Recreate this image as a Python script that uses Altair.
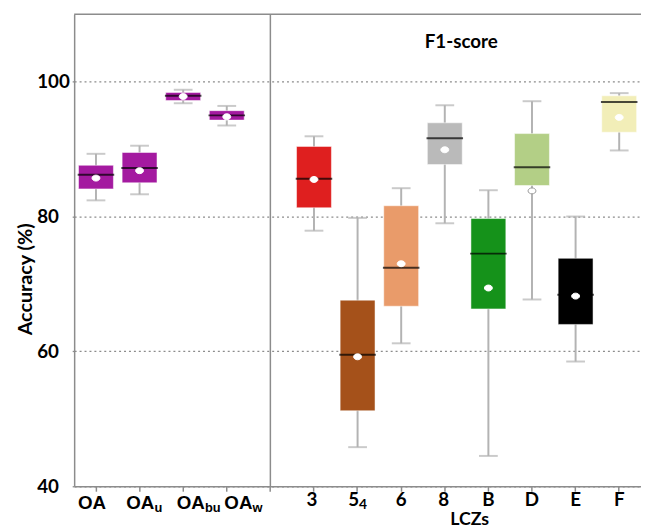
import altair as alt
import pandas as pd

# ---------------- data ----------------
categories = ["OA", "OAu", "OAbu", "OAw", "3", "54", "6", "8", "B", "D", "E", "F"]
label_main = ["OA", "OA", "OA", "OA", "3", "5", "6", "8", "B", "D", "E", "F"]
label_sub = ["", "u", "bu", "w", "", "4", "", "", "", "", "", ""]

whisker_low = [82.4, 83.3, 96.8, 93.5, 77.9, 45.8, 61.2, 79.0, 44.5, 67.7, 58.5, 89.8]
q1 = [84.1, 85.0, 97.2, 94.3, 81.3, 51.2, 66.7, 87.7, 66.3, 84.6, 64.0, 92.5]
median = [86.2, 87.2, 97.9, 95.0, 85.6, 59.5, 72.4, 91.6, 74.5, 87.3, 68.4, 97.0]
q3 = [87.6, 89.5, 98.4, 95.7, 90.4, 67.6, 81.6, 93.9, 79.7, 92.3, 73.8, 97.9]
whisker_high = [89.3, 90.5, 98.8, 96.4, 91.9, 79.8, 84.2, 96.5, 83.9, 97.1, 80.0, 98.3]
mean = [85.7, 86.8, 97.8, 94.8, 85.5, 59.2, 73.0, 89.9, 69.4, 83.8, 68.2, 94.7]
box_colors = ["#a41aa0", "#a41aa0", "#a41aa0", "#a41aa0", "#df1f1f", "#a5511a",
              "#e99b6a", "#bababa", "#15921a", "#b3cf86", "#000000", "#f2eeb8"]

y_ticks = [40, 60, 80, 100]
y_domain = [40, 110]
panel_title = "F1-score"
x_title = "LCZs"
y_title = "Accuracy (%)"

# ---------------- layout / style ----------------
W, H = 574, 478
GRAY = "#8c8c8c"
WHISK = "#b3b3b3"
# per-label horizontal offsets (style only)
LABEL_DX = [-4, 15, 22, 26, -2, 1.5, 0, -1, 0, 0, 0, 0]

df = pd.DataFrame({
    "cat": categories, "low": whisker_low, "q1": q1, "med": median,
    "q3": q3, "high": whisker_high, "mean": mean, "color": box_colors,
})

domain = categories[:4] + ["gap"] + categories[4:]

xscale = alt.Scale(domain=domain, paddingInner=0.2, paddingOuter=0.1)
xaxis = alt.Axis(labels=False, ticks=True, tickSize=5, tickColor=GRAY, tickWidth=1.5,
                 domainColor=GRAY, domainWidth=1.5, grid=False,
                 title=x_title, titleFont="Lato", titleFontSize=18, titleFontWeight="bold",
                 titleColor="black", titleX=400, titleY=34, titleAlign="center",
                 titleBaseline="middle")
X = alt.X("cat:N", scale=xscale, axis=xaxis)

yscale = alt.Scale(domain=y_domain, nice=False, zero=False)
yaxis = alt.Axis(values=y_ticks, labelAlign="left", labelPadding=33, tickSize=5,
                 tickDash=[2, 3], tickColor=GRAY, tickWidth=1.3,
                 labelFont="Lato", labelFontSize=19, labelFontWeight="bold", labelColor="black",
                 grid=True, gridDash=[2, 3], gridColor=GRAY, gridWidth=1.3,
                 domainColor=GRAY, domainWidth=1.5,
                 title=y_title, titleFont="Lato", titleFontSize=20, titleFontWeight="bold",
                 titleColor="black", titleAngle=270, titleX=-49, titleY=268,
                 titleAlign="center", titleBaseline="middle")


def Y(field):
    return alt.Y(f"{field}:Q", scale=yscale, axis=yaxis)


base = alt.Chart(df)

whiskers = base.mark_rule(color=WHISK, strokeWidth=2).encode(x=X, y=Y("low"), y2="high")
cap_low = base.mark_tick(color=WHISK, thickness=2, size=19).encode(x=X, y=Y("low"))
cap_high = base.mark_tick(color=WHISK, thickness=2, size=19).encode(x=X, y=Y("high"))
boxes = base.mark_bar(stroke="white", strokeWidth=1, strokeOpacity=0.5).encode(
    x=X, y=Y("q1"), y2="q3", color=alt.Color("color:N", scale=None))
medians = base.mark_tick(color="black", thickness=2, size=37).encode(x=X, y=Y("med"))
ellipse = "M -1 0 A 1 0.75 0 1 1 1 0 A 1 0.75 0 1 1 -1 0 Z"
means = base.transform_calculate(
    outside="datum.mean < datum.q1 || datum.mean > datum.q3"
).mark_point(shape=ellipse, filled=True, fill="white", size=64, opacity=1, strokeWidth=1).encode(
    x=X, y=Y("mean"),
    stroke=alt.condition("datum.outside", alt.value("#999999"), alt.value("white")))

sep = alt.Chart(pd.DataFrame({"cat": ["gap"]})).mark_rule(color=GRAY, strokeWidth=1.5).encode(
    x=X, y=alt.value(0), y2=alt.value(H))
top_border = alt.Chart(pd.DataFrame({"a": [0]})).mark_rule(color=GRAY, strokeWidth=1.5).encode(
    x=alt.value(0), x2=alt.value(W), y=alt.value(0))
title = alt.Chart(pd.DataFrame({"t": [panel_title]})).mark_text(
    font="Lato", fontSize=19, fontWeight="bold", color="black").encode(
    x=alt.value(392), y=alt.value(28), text="t:N")

label_layers = []
for i, cat in enumerate(categories):
    d = pd.DataFrame({"cat": [cat], "main": [label_main[i]], "sub": [label_sub[i]]})
    is_oa = i < 4
    font = "Liberation Sans" if is_oa else "Lato"
    main_y = 495 if is_oa else 492
    if label_sub[i]:
        label_layers.append(alt.Chart(d).mark_text(
            font=font, fontSize=19, fontWeight="bold", color="black", align="right",
            baseline="middle", dx=LABEL_DX[i]).encode(x=X, y=alt.value(main_y), text="main:N"))
        label_layers.append(alt.Chart(d).mark_text(
            font=font, fontSize=13 if is_oa else 14, fontWeight="bold", color="black",
            align="left", baseline="middle", dx=LABEL_DX[i]).encode(
            x=X, y=alt.value(500 if is_oa else 497), text="sub:N"))
    else:
        label_layers.append(alt.Chart(d).mark_text(
            font=font, fontSize=19, fontWeight="bold", color="black", align="center",
            baseline="middle", dx=LABEL_DX[i]).encode(x=X, y=alt.value(main_y), text="main:N"))

chart = alt.layer(
    sep, top_border, whiskers, cap_low, cap_high, boxes, medians, means, title, *label_layers
).properties(
    width=W, height=H,
    autosize=alt.AutoSizeParams(type="none"),
    padding={"left": 67, "top": 3, "right": 0, "bottom": 43},
).configure_view(stroke=None)

chart.save("out.html", embed_options={"renderer": "svg", "actions": False})
